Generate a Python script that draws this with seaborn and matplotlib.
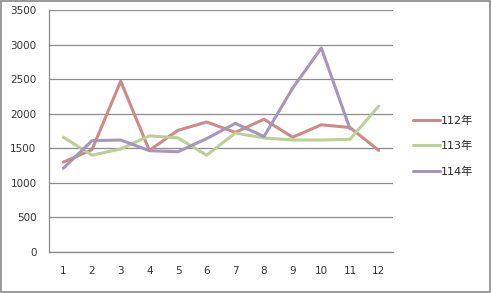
import matplotlib
matplotlib.use("Agg")
import matplotlib.pyplot as plt
import seaborn as sns
import pandas as pd
import numpy as np

months = list(range(1, 13))
y112 = [1300, 1480, 2470, 1470, 1760, 1880, 1730, 1920, 1660, 1840, 1800, 1470]
y113 = [1660, 1400, 1490, 1680, 1650, 1400, 1720, 1650, 1620, 1620, 1630, 2110]
y114 = [1210, 1610, 1620, 1465, 1450, 1640, 1860, 1670, 2370, 2950, 1780, None]
series_names = ["112年", "113年", "114年"]
colors = ["#CD8A86", "#BBCF97", "#A596BC"]

rows = []
for name, vals in zip(series_names, [y112, y113, y114]):
    for m, v in zip(months, vals):
        if v is not None:
            rows.append({"月": m, "值": v, "年": name})
df = pd.DataFrame(rows)

sns.set_style("white")
plt.rcParams['font.family'] = ['DejaVu Sans', 'Noto Sans CJK TC']

fig = plt.figure(figsize=(4.91, 2.93), dpi=100)
ax = fig.add_axes([49/491, 41/293, (393-49)/491, (252-10)/293])
sns.lineplot(data=df, x="月", y="值", hue="年", palette=colors, linewidth=2.2,
             ax=ax, legend=True)

ax.set_xlim(0.5, 12.5)
ax.set_ylim(0, 3500)
ax.set_yticks(np.arange(0, 3501, 500))
ax.set_xticks(months)
ax.set_xticks(np.arange(0.5, 12.6, 1), minor=True)
ax.tick_params(axis='x', which='major', length=0, pad=10, labelsize=7.5, colors='#333333')
ax.tick_params(axis='x', which='minor', length=5, color='#888888', direction='out')
ax.tick_params(axis='y', which='major', length=4, labelsize=7.5, pad=5)
ax.tick_params(axis='y', colors='#888888', labelcolor='#333333')
ax.set_xlabel("")
ax.set_ylabel("")
ax.grid(axis='y', color='#8c8c8c', linewidth=0.9)
ax.set_axisbelow(True)
for s in ["top", "right"]:
    ax.spines[s].set_visible(False)
for s in ["left", "bottom"]:
    ax.spines[s].set_color('#888888')
    ax.spines[s].set_linewidth(0.9)

leg = ax.legend(loc='center left', bbox_to_anchor=(1.03, 0.438), frameon=False,
                fontsize=8, handlelength=2.4, handletextpad=0.1, labelspacing=1.35)
for line in leg.get_lines():
    line.set_linewidth(2.2)

fig.patches.append(plt.Rectangle((0.002, 0.003), 0.996, 0.994, transform=fig.transFigure,
                                 fill=False, edgecolor='#888888', linewidth=1.2))
fig.savefig("out.png", dpi=100)
